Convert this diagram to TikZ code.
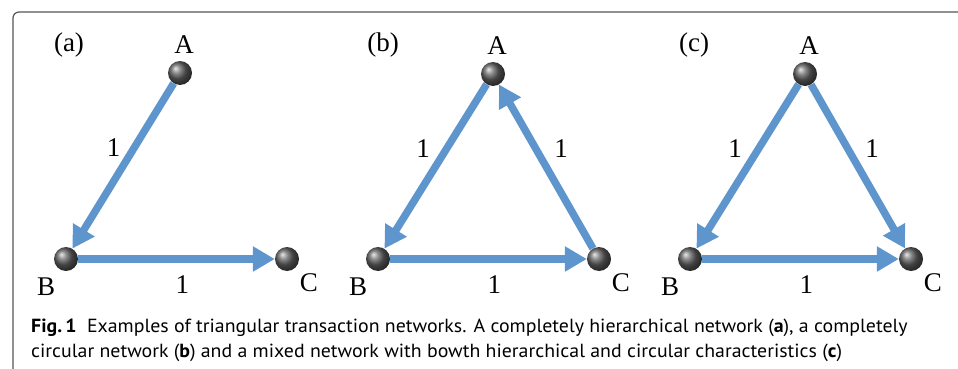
\documentclass[tikz,border=0pt]{standalone}
\usepackage{fontspec}
\setmainfont{Liberation Serif}
\newfontfamily\capfont[FakeStretch=1.045]{PT Sans}
\usetikzlibrary{arrows.meta,positioning}
\definecolor{edgeblue}{HTML}{5E95CC}
\definecolor{framegray}{HTML}{555555}

\begin{document}
\begin{tikzpicture}[
  x=1pt, y=-1pt,
  ball/.style={circle, minimum size=24pt, inner sep=0pt, shading=ball, ball color=gray!75!black},
  lbl/.style={inner sep=0pt, font=\fontsize{27}{30}\selectfont},
  wt/.style={inner sep=0pt, text=black, font=\fontsize{27}{30}\selectfont},
  arr/.style={-{Triangle[length=22pt, width=24pt]}, line width=7.5pt, edgeblue},
  captext/.style={inner sep=0pt, anchor=base west, font=\capfont\fontsize{19}{24}\selectfont}
]
\useasboundingbox (0,0) rectangle (958,369);
\draw[framegray, line width=1.2pt, rounded corners=6pt] (13,369) -- (13,12) -- (958,12);

% (a) hierarchical
\node[ball] (aA) at (180,73) {};
\node[ball] (aB) at (66,259) {};
\node[ball] (aC) at (287,259) {};
\node[lbl, above=7pt of aA, xshift=4pt] (aAl) {A};
\node[lbl, below left=10pt and 2pt of aB] (aBl) {B};
\node[lbl, below right=6pt and 4pt of aC] (aCl) {C};
\node[lbl] (aT) at (69,45) {(a)};
\draw[arr] (aA) -- node[wt, pos=0.39, left=10pt] {1} (aB);
\draw[arr] (aB) -- node[wt, pos=0.53, below=13pt] {1} (aC);

% (b) circular
\node[ball] (bA) at (493,74) {};
\node[ball] (bB) at (378,259) {};
\node[ball] (bC) at (599,259) {};
\node[lbl, above=7pt of bA, xshift=4pt] (bAl) {A};
\node[lbl, below left=10pt and 2pt of bB] (bBl) {B};
\node[lbl, below right=6pt and 4pt of bC] (bCl) {C};
\node[lbl] (bT) at (383,45) {(b)};
\draw[arr] (bA) -- node[wt, pos=0.39, left=13pt] {1} (bB);
\draw[arr] (bB) -- node[wt, pos=0.53, below=13pt] {1} (bC);
\draw[arr] (bC) -- node[wt, pos=0.61, right=15pt] {1} (bA);

% (c) mixed
\node[ball] (cA) at (805,74) {};
\node[ball] (cB) at (690,259) {};
\node[ball] (cC) at (911,259) {};
\node[lbl, above=7pt of cA, xshift=4pt] (cAl) {A};
\node[lbl, below left=10pt and 2pt of cB] (cBl) {B};
\node[lbl, below right=6pt and 4pt of cC] (cCl) {C};
\node[lbl] (cT) at (694,45) {(c)};
\draw[arr] (cA) -- node[wt, pos=0.39, left=13pt] {1} (cB);
\draw[arr] (cB) -- node[wt, pos=0.53, below=13pt] {1} (cC);
\draw[arr] (cA) -- node[wt, pos=0.39, right=14pt] {1} (cC);

% caption
\node[captext] (cap1) at (31,332) {\textbf{Fig.\,1}\hspace{0.55em}Examples of triangular transaction networks. A completely hierarchical network (\textbf{a}), a completely};
\node[captext] (cap2) at ([yshift=-25pt]cap1.base west) {circular network (\textbf{b}) and a mixed network with bowth hierarchical and circular characteristics (\textbf{c})};
\end{tikzpicture}
\end{document}
